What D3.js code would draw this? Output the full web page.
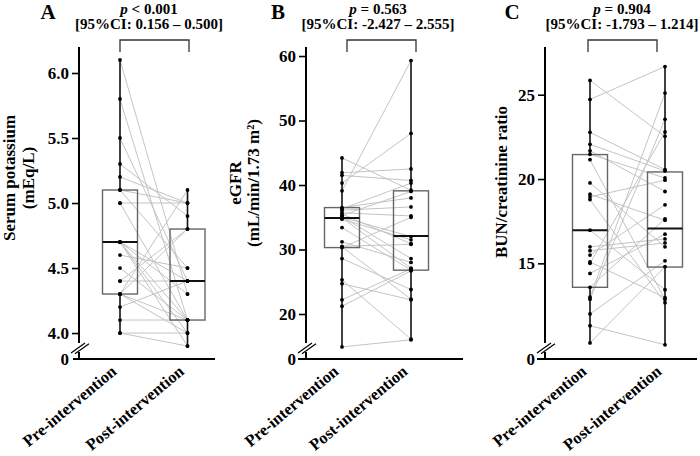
<!DOCTYPE html>
<html><head><meta charset="utf-8">
<script src="https://cdn.jsdelivr.net/npm/d3@7"></script>
<style>
body{margin:0;background:#fff}
svg{display:block}
text{font-family:"Liberation Serif","Times New Roman",serif;font-weight:bold;fill:#000}
</style>
</head><body>
<svg id="chart" width="700" height="456"></svg>
<script>
// ---------- data ----------
const groups = ["Pre-intervention", "Post-intervention"];

const potassiumPre  = [6.1,5.8,5.5,5.3,5.2,5.1,5.1,5.0,5.0,4.7,4.7,4.7,4.7,4.7,4.6,4.5,4.4,4.4,4.3,4.3,4.3,4.3,4.2,4.1,4.0,4.0];
const potassiumPost = [4.3,4.1,4.4,4.9,5.0,5.0,4.5,5.0,4.1,4.4,4.1,4.0,3.9,4.3,4.5,4.1,4.4,4.8,5.1,4.1,4.0,4.8,4.4,4.1,4.0,3.9];
const potassiumBoxPre  = [4.0, 4.3, 4.7, 5.1, 6.1];   // min, Q1, median, Q3, max
const potassiumBoxPost = [3.9, 4.1, 4.4, 4.8, 5.1];
const potassiumTicks = [4.0, 4.5, 5.0, 5.5, 6.0];

const egfrPre  = [44.2,41.9,41.5,40.3,39.1,36.5,36.3,36.1,35.7,35.5,35.3,35.1,35.0,34.9,34.7,33.4,31.2,30.5,30.4,30.3,28.6,25.3,24.7,22.2,21.2,14.9];
const egfrPost = [39.2,42.5,40.7,48.0,59.3,38.0,40.3,36.6,35.2,30.9,39.0,28.6,32.0,27.1,31.5,26.8,28.0,30.8,22.3,35.0,23.8,16.1,22.2,27.0,26.7,16.0];
const egfrBoxPre  = [14.9, 30.3, 34.9, 36.5, 44.2];
const egfrBoxPost = [16.0, 26.8, 32.1, 39.1, 59.3];
const egfrTicks = [20, 30, 40, 50, 60];

const bunPre  = [25.85,24.72,22.77,22.06,21.67,21.47,21.15,19.77,19.1,18.94,18.78,16.97,15.98,15.75,15.49,15.08,15.0,14.4,13.58,12.99,12.87,12.0,11.3,10.28];
const bunPost = [22.53,26.67,20.56,20.48,19.26,20.06,12.87,15.98,17.55,19.93,12.67,13.44,16.45,16.21,18.47,12.97,22.79,16.73,17.64,25.1,23.54,15.15,10.17,14.8];
const bunBoxPre  = [10.28, 13.58, 16.97, 21.45, 25.85];
const bunBoxPost = [10.17, 14.78, 17.06, 20.42, 26.67];
const bunTicks = [15, 20, 25];

const panelLetters = ["A", "B", "C"];
const pLabels = ["< 0.001", "= 0.563", "= 0.904"];
const ciLabels = ["[95%CI: 0.156 \u2013 0.500]", "[95%CI: -2.427 \u2013 2.555]", "[95%CI: -1.793 \u2013 1.214]"];
const yTitles = [["Serum potassium", "(mEq/L)"], ["eGFR", "(mL/min/1.73 m\u00B2)"], ["BUN/creatinine ratio"]];

// ---------- layout ----------
const panels = [
  {pre: potassiumPre, post: potassiumPost, boxPre: potassiumBoxPre, boxPost: potassiumBoxPost, ticks: potassiumTicks, fmt: d3.format(".1f"),
   axisX: 79, xStart: 73, xEnd: 215, cPre: 120, cPost: 187.5, dom: [3.885, 6.2], titleX: 15, titleCY: 178, gap: 19, headCX: 149, letterX: 48, br: [120, 189]},
  {pre: egfrPre, post: egfrPost, boxPre: egfrBoxPre, boxPost: egfrBoxPost, ticks: egfrTicks, fmt: d3.format("d"),
   axisX: 306, xStart: 298, xEnd: 463, cPre: 342, cPost: 411, dom: [14.73, 61.4], titleX: 241, titleCY: 183, gap: 18, headCX: 378, letterX: 278, br: [347, 416]},
  {pre: bunPre, post: bunPost, boxPre: bunBoxPre, boxPost: bunBoxPost, ticks: bunTicks, fmt: d3.format("d"),
   axisX: 545, xStart: 537, xEnd: 697, cPre: 590, cPost: 665, dom: [9.98, 27.83], titleX: 507, titleCY: 182, gap: 19, headCX: 622, letterX: 512, br: [588, 657]}
];
const yTop = 47, yBot = 348, yBase = 359, boxW = 35;

const svg = d3.select("#chart");

panels.forEach((p, i) => {
  const g = svg.append("g");
  const y = d3.scaleLinear().domain(p.dom).range([yBot, yTop]);
  const x = d3.scalePoint().domain(groups).range([p.cPre, p.cPost]);

  // header
  g.append("text").attr("x", p.letterX).attr("y", 19).attr("text-anchor", "middle")
    .style("font-size", "21px").text(panelLetters[i]);
  const pt = g.append("text").attr("x", p.headCX).attr("y", 14).attr("text-anchor", "middle").style("font-size", "15px");
  pt.append("tspan").style("font-style", "italic").text("p");
  pt.append("tspan").text(" " + pLabels[i]);
  g.append("text").attr("x", p.headCX).attr("y", 29).attr("text-anchor", "middle").style("font-size", "15px").text(ciLabels[i]);

  // bracket
  g.append("path").attr("fill", "none").attr("stroke", "#333").attr("stroke-width", 1.3)
    .attr("d", `M${p.br[0]},52V40H${p.br[1]}V52`);

  // paired lines
  g.append("g").selectAll("line").data(p.pre.map((v, k) => [v, p.post[k]])).join("line")
    .attr("x1", x(groups[0])).attr("x2", x(groups[1]))
    .attr("y1", d => y(d[0])).attr("y2", d => y(d[1]))
    .attr("stroke", "#c4c4c4").attr("stroke-width", 1);

  // boxes
  [[groups[0], p.boxPre], [groups[1], p.boxPost]].forEach(([grp, b]) => {
    const cx = x(grp);
    g.append("line").attr("x1", cx).attr("x2", cx).attr("y1", y(b[4])).attr("y2", y(b[3]))
      .attr("stroke", "#111").attr("stroke-width", 1.6);
    g.append("line").attr("x1", cx).attr("x2", cx).attr("y1", y(b[1])).attr("y2", y(b[0]))
      .attr("stroke", "#111").attr("stroke-width", 1.6);
    g.append("rect").attr("x", cx - boxW / 2).attr("width", boxW)
      .attr("y", y(b[3])).attr("height", y(b[1]) - y(b[3]))
      .attr("fill", "none").attr("stroke", "#666").attr("stroke-width", 1.4);
    g.append("line").attr("x1", cx - boxW / 2).attr("x2", cx + boxW / 2).attr("y1", y(b[2])).attr("y2", y(b[2]))
      .attr("stroke", "#111").attr("stroke-width", 2);
  });

  // points
  [[groups[0], p.pre], [groups[1], p.post]].forEach(([grp, vals]) => {
    g.append("g").selectAll("circle").data(vals).join("circle")
      .attr("cx", x(grp)).attr("cy", d => y(d)).attr("r", 1.9).attr("fill", "#000");
  });

  // y axis
  const ax = g.append("g").attr("transform", `translate(${p.axisX},0)`)
    .call(d3.axisLeft(y).tickValues(p.ticks).tickFormat(p.fmt).tickSize(7).tickPadding(3));
  ax.select(".domain").remove();
  ax.selectAll(".tick line").attr("stroke", "#000").attr("stroke-width", 1.6);
  ax.selectAll(".tick text").style("font-size", "17px").style("font-family", "'Liberation Serif',serif").style("font-weight", "bold");
  g.append("line").attr("x1", p.axisX).attr("x2", p.axisX).attr("y1", yTop).attr("y2", 343)
    .attr("stroke", "#000").attr("stroke-width", 2);
  // break marks
  [0, 4].forEach(o => {
    g.append("line").attr("x1", p.axisX - 8 + o).attr("y1", 353 + o * 0.2)
      .attr("x2", p.axisX + 6 + o).attr("y2", 343 + o * 0.2)
      .attr("stroke", "#000").attr("stroke-width", 1.2);
  });
  g.append("line").attr("x1", p.axisX).attr("x2", p.axisX).attr("y1", 352).attr("y2", yBase)
    .attr("stroke", "#000").attr("stroke-width", 2);
  g.append("text").attr("x", p.axisX - 10).attr("y", yBase + 6).attr("text-anchor", "end")
    .style("font-size", "17px").text("0");
  // x axis
  g.append("line").attr("x1", p.xStart).attr("x2", p.xEnd).attr("y1", yBase).attr("y2", yBase)
    .attr("stroke", "#000").attr("stroke-width", 2);
  const xa = g.append("g").attr("transform", `translate(0,${yBase})`)
    .call(d3.axisBottom(x).tickSize(0).tickPadding(0));
  xa.select(".domain").remove();
  xa.selectAll(".tick text")
    .attr("text-anchor", "end").attr("dy", 0).attr("y", 0)
    .attr("transform", "translate(-3,14) rotate(-40)")
    .style("font-size", "16.5px").style("font-family", "'Liberation Serif',serif").style("font-weight", "bold");

  // y title
  const lines = yTitles[i];
  lines.forEach((t, k) => {
    g.append("text").attr("transform", `translate(${p.titleX + k * p.gap},${p.titleCY}) rotate(-90)`)
      .attr("text-anchor", "middle").style("font-size", "17px").text(t);
  });
});
</script>
</body></html>
